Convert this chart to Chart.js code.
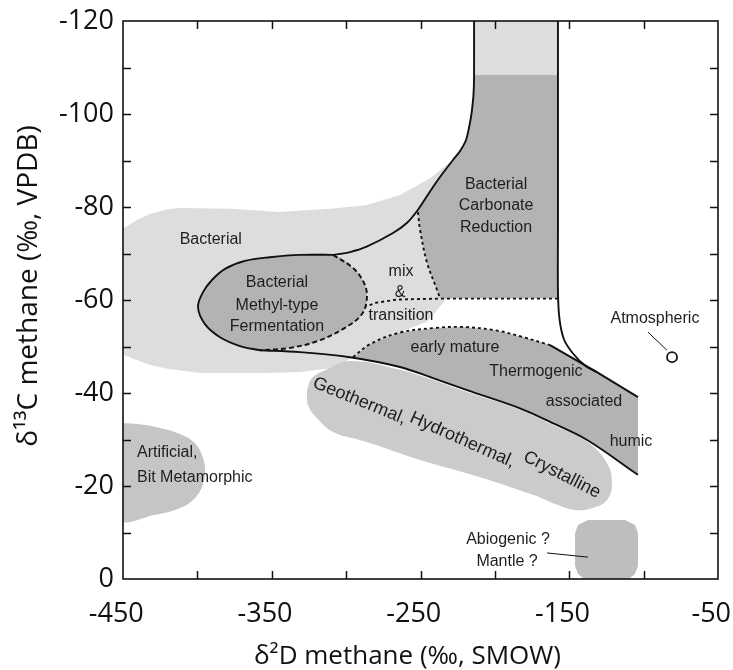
<!DOCTYPE html>
<html>
<head>
<meta charset="utf-8">
<script src="https://cdn.jsdelivr.net/npm/chart.js@4.4.1/dist/chart.umd.min.js"></script>
<style>
  html, body { margin: 0; padding: 0; background: #fff; }
  #wrap { width: 733px; height: 670px; }
</style>
</head>
<body>
<div id="wrap"><canvas id="c" width="733" height="670"></canvas></div>
<script>
// ---- Axis tick labels ----
const xLabelValues = [-450, -350, -250, -150, -50];
const yLabelValues = [-120, -100, -80, -60, -40, -20, 0];

// ---- Genetic fields: outlines as [δD, δ13C] pairs ----
const bacterialField = [
  [-452,-75.0],[-440,-77.3],[-431.8,-78.5],[-420,-79.5],[-411.7,-79.8],[-378.1,-79.6],
  [-344.5,-78.9],[-310.8,-79.6],[-286.6,-80.4],[-263.8,-82.6],[-243.6,-86.2],[-230.2,-89.6],
  [-223.5,-92],[-219.4,-94.4],[-216.4,-98.7],[-215.4,-100.9],[-214.4,-104],[-214,-108],
  [-214,-122],[-157.6,-122],[-157.6,-60.4],[-232.2,-60.4],[-245.6,-55.3],[-263.8,-53.1],
  [-295.4,-47.7],[-308.8,-45.4],[-331,-44.5],[-353.2,-44.3],[-398.2,-44.3],[-420,-45.2],
  [-431.8,-46],[-452,-48.5],[-452,-75.0]
];
const carbonateField = [
  [-214,-108.4],[-157.6,-108.4],[-157.6,-60.4],[-236.9,-60.4],[-238.9,-62.2],[-245.6,-68],
  [-250.3,-75.1],[-251.7,-79.4],[-241.6,-84.3],[-234.9,-87.3],[-228.2,-90.1],[-223.5,-92],
  [-219.4,-94.4],[-216.4,-98.7],[-215.4,-100.9],[-214.4,-104],[-214,-108.4]
];
const methylSolidArc = [
  [-357.9,-49.2],[-371.3,-50.1],[-384.8,-52.0],[-394.9,-54.8],[-399.6,-58.5],[-396.2,-61.7],
  [-390.2,-64.3],[-381.4,-66.7],[-368.0,-68.4],[-351.2,-69.2],[-331.0,-69.7],[-308.8,-69.7]
];
const methylDashedArc = [
  [-308.8,-69.7],[-295.4,-66.9],[-288.0,-63.7],[-286.0,-60.6],[-289.3,-57.0],[-300.8,-54.0],
  [-318.9,-51.2],[-337.7,-49.7],[-357.9,-49.2]
];
const thermoUpperDotted = [
  [-295.4,-47.7],[-284,-50.5],[-263.8,-53.0],[-240,-54.0],[-221.4,-54.2],[-200,-53.5],
  [-183.1,-52.2],[-162.9,-50.3]
];
const thermoUpperSolid = [[-162.9,-50.3],[-131.4,-44.5],[-103.8,-39.1]];
const thermoLowerLine = [
  [-357.9,-49.2],[-331,-48.8],[-297.4,-47.7],[-263.8,-45.6],[-241.6,-43.2],[-218.7,-40.6],
  [-183.1,-36.7],[-162.9,-33.8],[-138,-29.9],[-103.8,-22.4]
];
const geothermalField = [
  [-326.3,-40.6],[-322.9,-43.2],[-314.2,-44.9],[-297.4,-46.9],[-263.8,-45.0],[-241.6,-42.8],
  [-218.7,-40.2],[-183.1,-36.4],[-162.9,-33.4],[-138,-29.5],[-124.6,-24.9],[-121.3,-20.6],
  [-124.6,-17.0],[-134.0,-15.3],[-142.8,-14.8],[-154.2,-15.5],[-174.4,-18.1],[-210.0,-21.9],
  [-250.3,-25.6],[-286.6,-29.5],[-308.8,-31.6],[-319.6,-34.6],[-325.6,-37.4],[-326.3,-40.6]
];
const artificialField = [
  [-452,-33.6],[-438.6,-33.3],[-425.1,-32.5],[-411.7,-31.2],[-401.6,-29.2],[-396.2,-26.0],
  [-394.9,-23.0],[-396.9,-19.8],[-402.9,-17.0],[-413,-15.1],[-428.5,-13.8],[-452,-13.0],[-452,-33.6]
];
const abiogenicField = [
  [-146.1,-9.9],[-144.1,-11.6],[-137.4,-12.7],[-112.5,-12.7],[-105.8,-11.6],[-103.8,-9.9],
  [-103.8,-2.8],[-105.8,-1.1],[-111.9,0.5],[-138.1,0.5],[-144.1,-1.1],[-146.1,-2.8],[-146.1,-9.9]
];

// ---- Boundary lines ----
const reductionCurve = [
  [-214,-122],[-214,-108],[-214.4,-104],[-215.4,-100.9],[-216.4,-98.7],[-219.4,-94.4],
  [-223.5,-92],[-228.2,-90.1],[-234.9,-87.3],[-241.6,-84.3],[-251.7,-79.4],[-259,-76.6],
  [-268.5,-74.4],[-286.6,-71.4],[-297.4,-70.3],[-308.8,-69.7]
];
const atmosphericCurve = [
  [-157.6,-122],[-157.6,-75],[-157.6,-62],[-156.6,-56],[-153.5,-51.5],[-147.5,-48.5],
  [-139,-45.8],[-131.4,-44.5]
];
const carbonateDotted = [[-251.7,-78.9],[-250.3,-75.1],[-245.6,-68],[-238.9,-62.2],[-236.9,-60.4]];
const transitionDotted = [[-157.6,-60.3],[-236.9,-60.3],[-265.8,-60.1],[-280,-59.4],[-286.5,-58.6]];
const atmosphericLeader = [[-97.1,-53.1],[-84.3,-49.2]];
const abiogenicLeader = [[-164.9,-5.6],[-137.4,-4.7]];
const atmosphericPoint = [[-80.9,-47.7]];

// ---- Field names ----
const fieldLabels = [
  { text: 'Bacterial', x: -391.0, y: -72.9 },
  { text: 'Bacterial', x: -346.5, y: -63.7 },
  { text: 'Methyl-type', x: -346.5, y: -58.9 },
  { text: 'Fermentation', x: -346.5, y: -54.2 },
  { text: 'Bacterial', x: -199.2, y: -84.9 },
  { text: 'Carbonate', x: -199.2, y: -80.2 },
  { text: 'Reduction', x: -199.2, y: -75.5 },
  { text: 'mix', x: -263.1, y: -66.2 },
  { text: '&', x: -263.8, y: -61.5 },
  { text: 'transition', x: -263.1, y: -56.6 },
  { text: 'early mature', x: -226.8, y: -49.7 },
  { text: 'Thermogenic', x: -172.4, y: -44.5 },
  { text: 'associated', x: -140.1, y: -38.1 },
  { text: 'humic', x: -108.5, y: -29.5 },
  { text: 'Artificial,', x: -440.6, y: -27.1, align: 'left' },
  { text: 'Bit Metamorphic', x: -440.6, y: -21.9, align: 'left' },
  { text: 'Abiogenic ?', x: -191.2, y: -8.4 },
  { text: 'Mantle ?', x: -191.8, y: -3.7 },
  { text: 'Atmospheric', x: -92.4, y: -56.1 },
  { text: 'Geothermal,', x: -291.0, y: -38.3, rot: 22, size: 18 },
  { text: 'Hydrothermal,', x: -221.8, y: -29.9, rot: 24, size: 18 },
  { text: 'Crystalline', x: -154.9, y: -22.4, rot: 27, size: 18 }
];

const INK = '#111';

// fine halftone-like grain for the shaded fields
function grain(level) {
  const c = document.createElement('canvas');
  c.width = 2; c.height = 2;
  const g = c.getContext('2d');
  const hi = Math.min(255, level + 7), lo = level - 7;
  g.fillStyle = `rgb(${hi},${hi},${hi})`; g.fillRect(0, 0, 2, 2);
  g.fillStyle = `rgb(${lo},${lo},${lo})`; g.fillRect(0, 0, 1, 1); g.fillRect(1, 1, 1, 1);
  return g.createPattern(c, 'repeat');
}
const LIGHT = grain(221), DARK = grain(179), GEO = grain(203), ART = grain(197), ABIO = grain(190);

const pts = arr => arr.map(([x, y]) => ({ x, y }));

function area(arr, color, tension) {
  return { data: pts(arr), showLine: true, fill: 'shape', backgroundColor: color,
           borderColor: 'rgba(0,0,0,0)', borderWidth: 0, pointRadius: 0, tension };
}
function path(arr, opts = {}) {
  return Object.assign({ data: pts(arr), showLine: true, fill: false, borderColor: INK,
           borderWidth: 1.9, pointRadius: 0, tension: 0.35 }, opts);
}

// drawing sequence, bottom to top
const layers = [
  area(bacterialField, LIGHT, 0),
  area(carbonateField, DARK, 0),
  area(artificialField, ART, 0.4),
  area(abiogenicField, ABIO, 0),
  area(geothermalField, GEO, 0.4),
  area([...thermoUpperDotted, ...thermoUpperSolid.slice(1), [-103.8,-22.4], ...thermoLowerLine.slice(2).reverse()], DARK, 0),
  area([...methylSolidArc, ...methylDashedArc.slice(1)], DARK, 0.4),
  path(reductionCurve, { tension: 0.3 }),
  path(atmosphericCurve, { tension: 0.3 }),
  path(methylSolidArc),
  path(methylDashedArc, { borderDash: [5, 3] }),
  path(thermoLowerLine),
  path(thermoUpperSolid, { tension: 0 }),
  path(thermoUpperDotted, { borderDash: [3, 3] }),
  path(carbonateDotted, { borderDash: [3, 3] }),
  path(transitionDotted, { borderDash: [3, 3], tension: 0 }),
  path(atmosphericLeader, { borderWidth: 1, tension: 0 }),
  path(abiogenicLeader, { borderWidth: 1, tension: 0 }),
  { data: pts(atmosphericPoint), showLine: false, pointRadius: 5, pointBackgroundColor: '#fff',
    pointBorderColor: INK, pointBorderWidth: 1.8 }
];
layers.forEach((d, i) => { d.order = layers.length - i; });

// inward tick marks and plot frame
const frameTicks = {
  id: 'frameTicks',
  afterDraw(chart) {
    const { ctx, chartArea: a, scales: { x, y } } = chart;
    const len = 8;
    ctx.save();
    ctx.strokeStyle = INK;
    ctx.lineWidth = 1.5;
    ctx.beginPath();
    x.ticks.forEach(t => {
      const px = Math.round(x.getPixelForValue(t.value)) + 0.5;
      if (px < a.left + 2 || px > a.right - 2) return;
      ctx.moveTo(px, a.bottom); ctx.lineTo(px, a.bottom - len);
      ctx.moveTo(px, a.top); ctx.lineTo(px, a.top + len);
    });
    y.ticks.forEach(t => {
      const py = Math.round(y.getPixelForValue(t.value)) + 0.5;
      if (py < a.top + 2 || py > a.bottom - 2) return;
      ctx.moveTo(a.left, py); ctx.lineTo(a.left + len, py);
      ctx.moveTo(a.right, py); ctx.lineTo(a.right - len, py);
    });
    ctx.stroke();
    ctx.lineWidth = 1.6;
    ctx.strokeRect(a.left, a.top, a.right - a.left, a.bottom - a.top);
    ctx.restore();
  }
};

// field names placed in data coordinates
const fieldNames = {
  id: 'fieldNames',
  afterDatasetsDraw(chart) {
    const { ctx, scales: { x, y } } = chart;
    ctx.save();
    ctx.fillStyle = '#1e1e1e';
    ctx.textBaseline = 'middle';
    fieldLabels.forEach(l => {
      ctx.save();
      ctx.font = (l.size || 16) + 'px "Liberation Sans", Arial, sans-serif';
      ctx.textAlign = l.align || 'center';
      ctx.translate(x.getPixelForValue(l.x), y.getPixelForValue(l.y));
      if (l.rot) ctx.rotate(l.rot * Math.PI / 180);
      ctx.fillText(l.text, 0, 0);
      ctx.restore();
    });
    ctx.restore();
  }
};

const tickFont = { family: '"Open Sans", sans-serif', size: 27 };

new Chart(document.getElementById('c'), {
  type: 'scatter',
  data: { datasets: layers },
  options: {
    responsive: false,
    animation: false,
    devicePixelRatio: 1,
    layout: { padding: { left: 12, top: 21, right: 15, bottom: 0 } },
    plugins: { legend: { display: false }, tooltip: { enabled: false } },
    scales: {
      x: {
        type: 'linear', position: 'bottom', min: -450, max: -50,
        afterFit(s) { s.height = 91; s.paddingLeft = 0; s.paddingRight = 0; },
        grid: { display: false, drawTicks: false },
        border: { display: false },
        ticks: {
          stepSize: 50, autoSkip: false, maxRotation: 0, padding: 19, color: INK, font: tickFont,
          // the en space keeps each number sitting a little left of its tick
          callback: v => xLabelValues.includes(v) ? String(v) + '\u2002' : ''
        },
        title: {
          display: true, text: 'δ²D methane (‰, SMOW)\u2002\u2002', color: INK,
          font: { family: '"Open Sans", sans-serif', size: 26, lineHeight: 1.0 }, padding: 0
        }
      },
      y: {
        type: 'linear', position: 'left', min: -120, max: 0, reverse: true,
        afterFit(s) { s.width = 111; s.paddingTop = 0; s.paddingBottom = 0; },
        grid: { display: false, drawTicks: false },
        border: { display: false },
        ticks: {
          stepSize: 10, autoSkip: false, padding: 9, color: INK, font: tickFont,
          callback: v => yLabelValues.includes(v) ? String(v) : ''
        },
        title: {
          display: true, text: '\u2002\u2002δ¹³C methane (‰, VPDB)', color: INK,
          font: { family: '"Open Sans", sans-serif', size: 28 }, padding: 0
        }
      }
    }
  },
  plugins: [frameTicks, fieldNames]
});
</script>
</body>
</html>
